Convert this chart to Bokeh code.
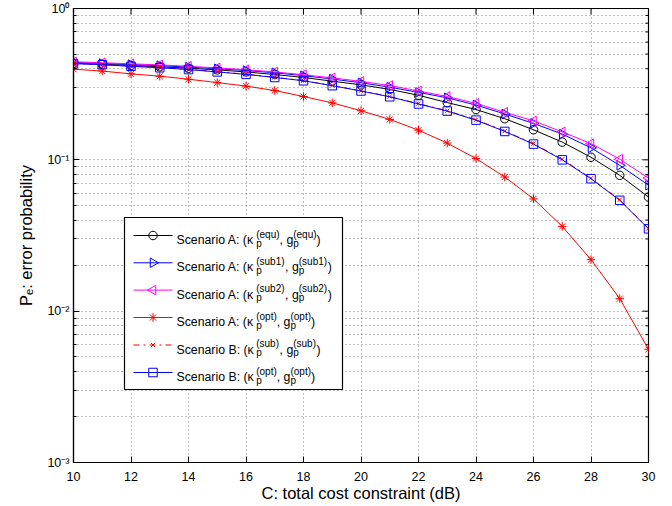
import numpy as np
from bokeh.plotting import figure
from bokeh.models import FixedTicker
from bokeh.embed import file_html
from bokeh.resources import INLINE
from bokeh.core.properties import value

# ---------------- data ----------------
x_db = [10, 11, 12, 13, 14, 15, 16, 17, 18, 19, 20, 21, 22, 23, 24, 25, 26, 27, 28, 29, 30]
pe_A_equ = [0.435, 0.428, 0.420, 0.412, 0.403, 0.393, 0.381, 0.366, 0.350, 0.331, 0.313,
            0.292, 0.267, 0.239, 0.215, 0.187, 0.158, 0.131, 0.104, 0.079, 0.0567]
pe_A_sub1 = [0.440, 0.433, 0.426, 0.419, 0.410, 0.400, 0.389, 0.376, 0.360, 0.342, 0.323,
             0.302, 0.279, 0.257, 0.230, 0.201, 0.174, 0.148, 0.120, 0.092, 0.068]
pe_A_sub2 = [0.445, 0.438, 0.431, 0.424, 0.415, 0.405, 0.394, 0.381, 0.365, 0.348, 0.330,
             0.310, 0.285, 0.262, 0.236, 0.206, 0.181, 0.153, 0.128, 0.101, 0.0758]
pe_A_opt = [0.397, 0.386, 0.370, 0.357, 0.341, 0.324, 0.307, 0.287, 0.262, 0.238, 0.211,
            0.185, 0.157, 0.129, 0.102, 0.077, 0.0552, 0.0363, 0.0219, 0.0121, 0.0056]
pe_B_sub = [0.433, 0.426, 0.416, 0.407, 0.396, 0.382, 0.368, 0.351, 0.334, 0.310, 0.286,
            0.262, 0.235, 0.211, 0.184, 0.155, 0.128, 0.101, 0.0755, 0.0545, 0.0352]
pe_B_opt = [0.432, 0.425, 0.415, 0.406, 0.395, 0.381, 0.367, 0.350, 0.333, 0.309, 0.285,
            0.261, 0.234, 0.210, 0.183, 0.154, 0.127, 0.100, 0.075, 0.054, 0.035]

x_ticks = [10, 12, 14, 16, 18, 20, 22, 24, 26, 28, 30]
y_ticks = [0.001, 0.01, 0.1, 1.0]
y_tick_labels = ["10\u207b\u00b3", "10\u207b\u00b2", "10\u207b\u00b9", "10\u2070"]
y_minor = [k * d for d in (0.001, 0.01, 0.1) for k in range(2, 10)]

x_label = "C: total cost constraint (dB)"
y_label = "P\u2091: error probability"

legend_rows = [
    ("Scenario A: (\u03ba", "(equ)"),
    ("Scenario A: (\u03ba", "(sub1)"),
    ("Scenario A: (\u03ba", "(sub2)"),
    ("Scenario A: (\u03ba", "(opt)"),
    ("Scenario B: (\u03ba", "(sub)"),
    ("Scenario B: (\u03ba", "(opt)"),
]

# ---------------- layout ----------------
FONT = "Liberation Sans"
W, H = 672, 506
L, R, T, B = 73, 648, 8, 462
X0, X1 = 10, 30
Y0, Y1 = 1e-3, 1.0

def px2x(px):
    return X0 + (px - L) / (R - L) * (X1 - X0)

def px2y(py):
    lo, hi = np.log10(Y0), np.log10(Y1)
    return 10 ** (lo + (B - py) / (B - T) * (hi - lo))

p = figure(width=W, height=H, x_range=(X0, X1), y_range=(Y0, Y1), y_axis_type="log",
           output_backend="svg", toolbar_location=None,
           min_border_left=L, min_border_right=W - R, min_border_top=T, min_border_bottom=H - B)
p.background_fill_color = "white"
p.border_fill_color = "white"
p.outline_line_color = "black"
p.outline_line_width = 1.2

yt = FixedTicker(ticks=y_ticks, minor_ticks=y_minor)
xt = FixedTicker(ticks=x_ticks)
p.xaxis.ticker = xt
p.yaxis.ticker = yt
p.yaxis.major_label_overrides = {t: s for t, s in zip(y_ticks, y_tick_labels)}

for ax in (p.xaxis[0], p.yaxis[0]):
    ax.major_label_text_font = FONT
    ax.major_label_text_font_size = "12.5px"
    ax.major_label_text_color = "black"
    ax.axis_line_color = "black"
    ax.axis_line_width = 1.2
    ax.major_tick_in = 6
    ax.major_tick_out = 0
    ax.minor_tick_in = 3
    ax.minor_tick_out = 0
    ax.major_tick_line_color = "black"
    ax.minor_tick_line_color = "black"
    ax.axis_label_text_font = FONT
    ax.axis_label_text_font_size = "16.5px"
    ax.axis_label_text_font_style = "normal"
    ax.axis_label_text_color = "black"
p.xaxis.minor_tick_line_color = None
p.xaxis.major_label_standoff = 9
p.yaxis.major_label_standoff = 4
p.xaxis.axis_label = x_label
p.yaxis.axis_label = y_label
p.xaxis.axis_label_standoff = 0
p.yaxis.axis_label_standoff = 9

for g in (p.xgrid[0], p.ygrid[0]):
    g.grid_line_color = "#555555"
    g.grid_line_dash = "1 3"
    g.grid_line_width = 1
    g.grid_line_alpha = 0.75
p.ygrid.minor_grid_line_color = "#555555"
p.ygrid.minor_grid_line_dash = "1 3"
p.ygrid.minor_grid_line_alpha = 0.75

# inward ticks on the top and right edges of the box
p.segment(x0=x_ticks, x1=x_ticks, y0=[px2y(T)] * len(x_ticks), y1=[px2y(T + 6)] * len(x_ticks),
          line_color="black", line_width=1)
p.segment(x0=[px2x(R)] * len(y_ticks), x1=[px2x(R - 6)] * len(y_ticks), y0=y_ticks, y1=y_ticks,
          line_color="black", line_width=1)
p.segment(x0=[px2x(R)] * len(y_minor), x1=[px2x(R - 3)] * len(y_minor), y0=y_minor, y1=y_minor,
          line_color="black", line_width=1)

# ---------------- series ----------------
series = [
    (pe_A_equ, "black", "solid", "circle", 0, 8.5),
    (pe_A_sub1, "#0000ff", "solid", "triangle", -np.pi / 2, 9.5),
    (pe_A_sub2, "#ff00ff", "solid", "triangle", np.pi / 2, 9.5),
    (pe_A_opt, "#ff0000", "solid", "asterisk", 0, 8.5),
    (pe_B_sub, "#ff0000", "dashdot", "x", 0, 6),
    (pe_B_opt, "#0000ff", "solid", "square", 0, 8.5),
]
for ys, col, dash, mk, ang, sz in series:
    p.line(x_db, ys, line_color=col, line_width=1, line_dash=dash)
    p.scatter(x_db, ys, marker=mk, angle=ang, size=sz, fill_color=None, line_color=col, line_width=1)

# ---------------- legend (drawn by hand for sub/superscripts) ----------------
leg_l, leg_r, leg_t, leg_b = 124, 342, 217, 389
p.quad(left=[px2x(leg_l)], right=[px2x(leg_r)], top=[px2y(leg_t)], bottom=[px2y(leg_b)],
       fill_color="white", line_color="black", line_width=1.2)
row_y = [235, 262.3, 289.6, 317, 344.5, 372]
ln_a, ln_b, mk_x, txt_x = 133, 172, 152.5, 176

W_ARIAL = {"S": 667, "c": 500, "e": 556, "n": 556, "a": 556, "r": 333, "i": 222, "o": 556,
           " ": 278, "A": 667, "B": 667, ":": 278, "(": 333, ")": 333, ",": 278, "p": 556,
           "g": 556, "u": 556, "b": 556, "q": 556, "t": 278, "1": 556, "2": 556, "\u03ba": 700}

def tw(s, size):
    return sum(W_ARIAL.get(ch, 556) for ch in s) * size / 1000.0

MAIN, SMALL = 12.3, 10
big = {"x": [], "y": [], "t": []}
small = {"x": [], "y": [], "t": []}
for (main1, sup), (ys, col, dash, mk, ang, sz), ry in zip(legend_rows, series, row_y):
    p.line([px2x(ln_a), px2x(ln_b)], [px2y(ry), px2y(ry)], line_color=col, line_width=1, line_dash=dash)
    p.scatter([px2x(mk_x)], [px2y(ry)], marker=mk, angle=ang, size=sz, fill_color=None,
              line_color=col, line_width=1)
    base = ry + 4.6
    cx = txt_x
    big["x"].append(px2x(cx)); big["y"].append(px2y(base)); big["t"].append(main1)
    cx += tw(main1, MAIN)
    small["x"] += [px2x(cx), px2x(cx)]
    small["y"] += [px2y(base - 6), px2y(base + 3)]
    small["t"] += [sup, "p"]
    cx += tw(sup, SMALL)
    big["x"].append(px2x(cx)); big["y"].append(px2y(base)); big["t"].append(", g")
    cx += tw(", g", MAIN)
    small["x"] += [px2x(cx), px2x(cx)]
    small["y"] += [px2y(base - 6), px2y(base + 3)]
    small["t"] += [sup, "p"]
    cx += tw(sup, SMALL)
    big["x"].append(px2x(cx)); big["y"].append(px2y(base)); big["t"].append(")")

p.text(x=big["x"], y=big["y"], text=big["t"], text_font=value(FONT), text_font_size=f"{MAIN}px",
       text_baseline="alphabetic", text_align="left", text_color="black")
p.text(x=small["x"], y=small["y"], text=small["t"], text_font=value(FONT), text_font_size=f"{SMALL}px",
       text_baseline="alphabetic", text_align="left", text_color="black")

open("out.html", "w").write(file_html(p, INLINE))
